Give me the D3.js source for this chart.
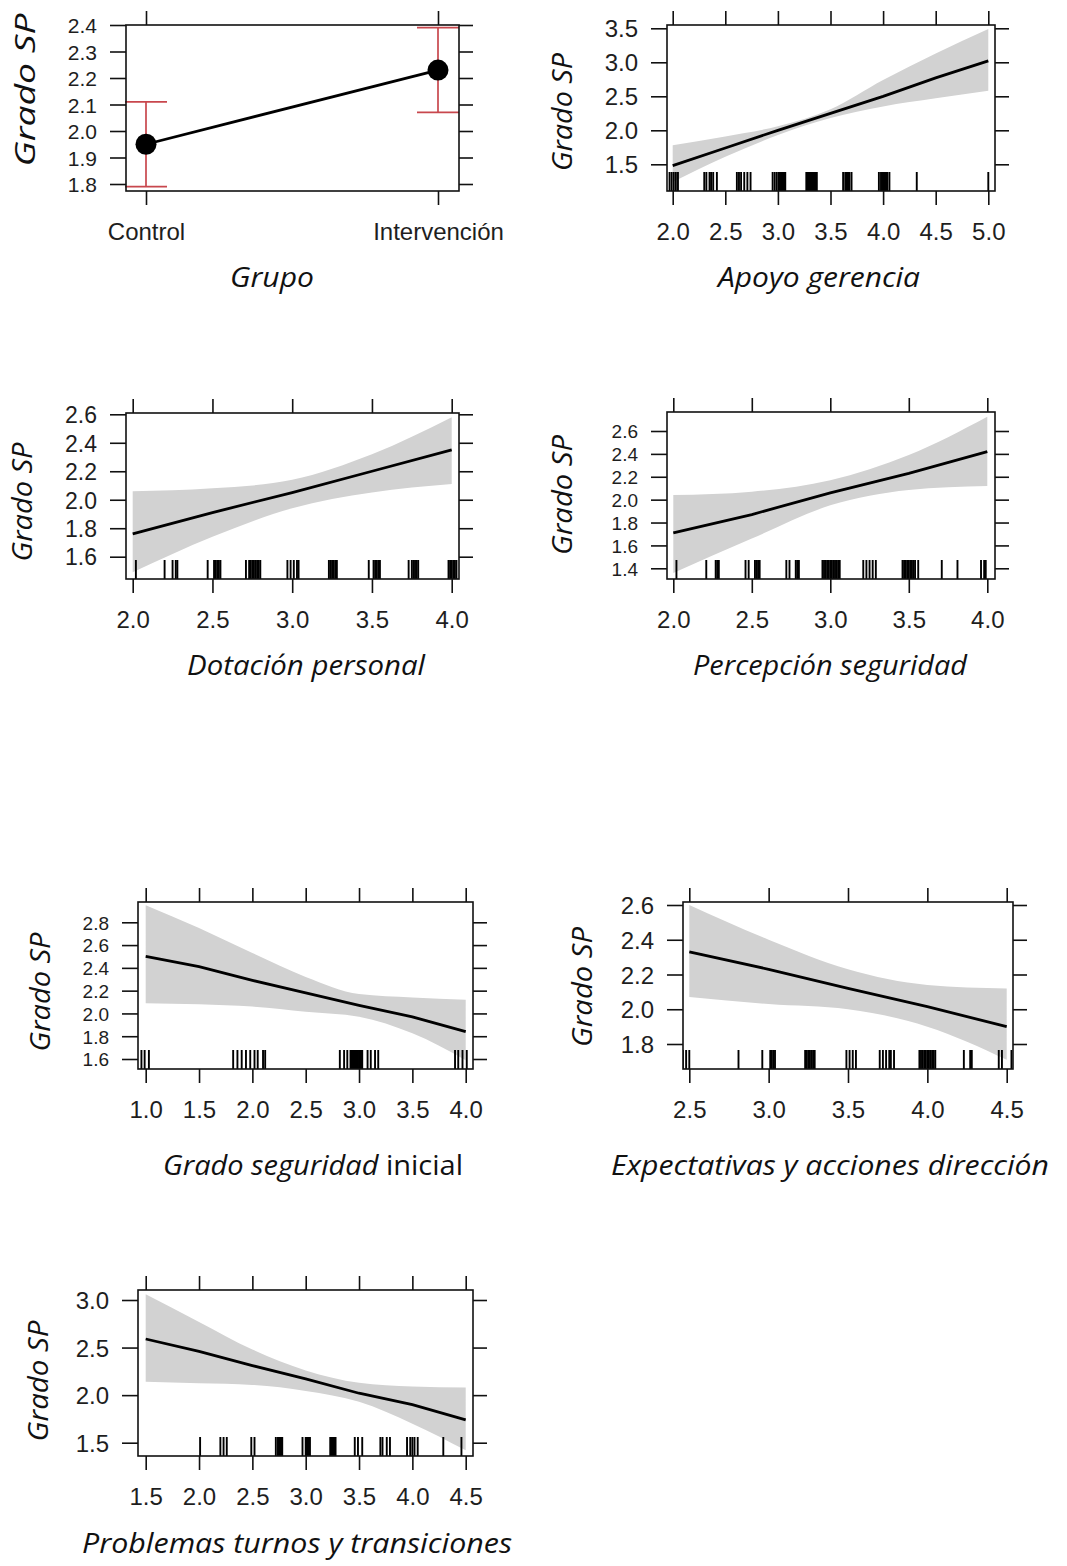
<!DOCTYPE html>
<html><head><meta charset="utf-8">
<script src="https://cdn.jsdelivr.net/npm/d3@7"></script>
<style>
body{margin:0;background:#fff}
svg{display:block}
.tick text{font-family:"Liberation Sans",Arial,sans-serif;font-size:24px;fill:#1e1e1e}
.tick line{stroke:#111;stroke-width:1.6}
.ttl{font-family:"Open Sans",sans-serif;font-style:italic;font-size:28px;fill:#111}
</style>
</head><body>
<svg id="c" width="1067" height="1566"></svg>
<script>
// ---------- DATA ----------
const yTitle = "Grado SP";

// Panel 1: Grupo
const grupoCategories = ["Control", "Intervención"];
const grupoFit   = [1.95, 2.23];
const grupoLower = [1.79, 2.07];
const grupoUpper = [2.11, 2.39];
const grupoTicksY = [1.8, 1.9, 2.0, 2.1, 2.2, 2.3, 2.4];

// Panel 2: Apoyo gerencia
const apoyoX     = [2.0, 2.5, 3.0, 3.5, 4.0, 4.5, 5.0];
const apoyoFit   = [1.48, 1.74, 2.00, 2.25, 2.50, 2.77, 3.02];
const apoyoLower = [1.24, 1.61, 1.93, 2.18, 2.35, 2.47, 2.58];
const apoyoUpper = [1.78, 1.91, 2.06, 2.31, 2.74, 3.13, 3.49];
const apoyoRug = [1.97,1.99,2.01,2.03,2.05, 2.30,2.32,2.35,2.365,2.385,2.42, 2.61,2.63,2.65,2.68,2.71,2.74,
  2.95,2.97,2.99,3.01,3.02,3.03,3.04,3.05,3.06,3.07, 3.27,3.28,3.29,3.30,3.31,3.32,3.33,3.34,3.35,3.36,3.37,
  3.62,3.64,3.65,3.66,3.67,3.68,3.70, 3.96,3.98,3.99,4.00,4.01,4.02,4.03,4.04,4.06, 4.32, 5.00];
const apoyoTicksX = [2.0, 2.5, 3.0, 3.5, 4.0, 4.5, 5.0];
const apoyoTicksY = [1.5, 2.0, 2.5, 3.0, 3.5];

// Panel 3: Dotación personal
const dotacionX     = [2.0, 2.5, 3.0, 3.5, 4.0];
const dotacionFit   = [1.76, 1.91, 2.05, 2.20, 2.35];
const dotacionLower = [1.49, 1.74, 1.94, 2.05, 2.11];
const dotacionUpper = [2.06, 2.08, 2.14, 2.32, 2.58];
const dotacionRug = [2.02, 2.20,2.25,2.27,2.28, 2.47,2.51,2.52,2.53,2.54,2.55,
  2.71,2.73,2.74,2.75,2.76,2.77,2.78,2.79,2.80, 2.97,2.99,3.01,3.03,3.04,
  3.23,3.24,3.25,3.26,3.27,3.28, 3.48,3.51,3.52,3.53,3.54,3.55,
  3.73,3.75,3.76,3.77,3.78,3.79, 3.98,3.99,4.00,4.01,4.02,4.03];
const dotacionTicksX = [2.0, 2.5, 3.0, 3.5, 4.0];
const dotacionTicksY = [1.6, 1.8, 2.0, 2.2, 2.4, 2.6];

// Panel 4: Percepción seguridad
const percepcionX     = [2.0, 2.5, 3.0, 3.5, 4.0];
const percepcionFit   = [1.71, 1.87, 2.06, 2.23, 2.42];
const percepcionLower = [1.36, 1.66, 1.95, 2.085, 2.12];
const percepcionUpper = [2.04, 2.07, 2.17, 2.39, 2.725];
const percepcionRug = [2.02, 2.21, 2.27,2.28,2.29, 2.46,2.48, 2.52,2.53,2.54,2.55, 2.72,2.74, 2.78,2.79,2.80,
  2.95,2.96,2.97,2.98,2.99,3.00,3.01,3.02,3.03,3.04,3.05,3.06, 3.21,3.23,3.25,3.27,3.29,
  3.46,3.47,3.48,3.49,3.50,3.51,3.52,3.53,3.54,3.56, 3.71, 3.81, 3.96,3.98,3.99];
const percepcionTicksX = [2.0, 2.5, 3.0, 3.5, 4.0];
const percepcionTicksY = [1.4, 1.6, 1.8, 2.0, 2.2, 2.4, 2.6];

// Panel 5: Grado seguridad inicial
const inicialX     = [1.0, 1.5, 2.0, 2.5, 3.0, 3.5, 4.0];
const inicialFit   = [2.50, 2.41, 2.29, 2.18, 2.07, 1.97, 1.84];
const inicialLower = [2.09, 2.08, 2.06, 2.015, 1.97, 1.825, 1.59];
const inicialUpper = [2.95, 2.75, 2.53, 2.32, 2.17, 2.14, 2.12];
const inicialRug = [0.96,0.99,1.03, 1.82,1.86,1.90,1.94,1.98,2.02,2.05,2.10,2.12,
  2.82,2.86,2.89,2.92,2.93,2.94,2.95,2.96,2.97,2.98,2.99,3.00,3.01,3.02,3.03,3.08,3.11,3.15,3.18,
  3.90,3.93,3.97,4.01];
const inicialTicksX = [1.0, 1.5, 2.0, 2.5, 3.0, 3.5, 4.0];
const inicialTicksY = [1.6, 1.8, 2.0, 2.2, 2.4, 2.6, 2.8];

// Panel 6: Expectativas y acciones dirección
const expectX     = [2.5, 3.0, 3.5, 4.0, 4.5];
const expectFit   = [2.33, 2.23, 2.12, 2.015, 1.90];
const expectLower = [2.07, 2.03, 2.00, 1.90, 1.71];
const expectUpper = [2.60, 2.40, 2.23, 2.14, 2.12];
const expectRug = [2.46,2.48,2.50, 2.81, 2.96, 3.01,3.02,3.03,3.04, 3.23,3.24,3.25,3.26,3.27,3.28,3.29,
  3.49, 3.51,3.53,3.55, 3.70, 3.72,3.74,3.76,3.77,3.79,
  3.95,3.96,3.97,3.98,3.99,4.00,4.01,4.02,4.03,4.04,4.05, 4.23, 4.27,4.28, 4.45,4.47, 4.53];
const expectTicksX = [2.5, 3.0, 3.5, 4.0, 4.5];
const expectTicksY = [1.8, 2.0, 2.2, 2.4, 2.6];

// Panel 7: Problemas turnos y transiciones
const turnosX     = [1.5, 2.0, 2.5, 3.0, 3.5, 4.0, 4.5];
const turnosFit   = [2.59, 2.46, 2.31, 2.17, 2.02, 1.90, 1.74];
const turnosLower = [2.14, 2.125, 2.107, 2.044, 1.93, 1.70, 1.42];
const turnosUpper = [3.06, 2.77, 2.48, 2.26, 2.13, 2.09, 2.08];
const turnosRug = [2.01, 2.20,2.23,2.26, 2.49,2.52, 2.72,2.74,2.75,2.76,2.77,2.78,
  2.97,3.00,3.01,3.02,3.03,3.04, 3.23,3.24,3.25,3.26,3.27,3.28, 3.46,3.49,3.53,
  3.70,3.72,3.76,3.79, 3.95,3.98,4.00,4.02,4.05, 4.29, 4.46];
const turnosTicksX = [1.5, 2.0, 2.5, 3.0, 3.5, 4.0, 4.5];
const turnosTicksY = [1.5, 2.0, 2.5, 3.0];

// ---------- LAYOUT ----------
const panels = [
  {cat:true, cats:grupoCategories, fit:grupoFit, lower:grupoLower, upper:grupoUpper, ticksY:grupoTicksY,
   box:[126,25,459,191], xr:[146,438], yd:[1.8,2.4], yr:[184,25], yfs:21,
   title:[{t:"Grupo",it:true}], tx:272, ty:287, tw:84, ytx:35, yty:90, ytw:153},
  {xs:apoyoX, fit:apoyoFit, lower:apoyoLower, upper:apoyoUpper, rug:apoyoRug, ticksX:apoyoTicksX, ticksY:apoyoTicksY,
   box:[667,25,995,191], xd:[2,5], xr:[672.7,988.3], yd:[1.5,3.5], yr:[164.3,28.3], yfs:24,
   title:[{t:"Apoyo gerencia",it:true}], tx:819, ty:287, tw:202, ytx:572, yty:112, ytw:118},
  {xs:dotacionX, fit:dotacionFit, lower:dotacionLower, upper:dotacionUpper, rug:dotacionRug, ticksX:dotacionTicksX, ticksY:dotacionTicksY,
   box:[126,413,459,579], xd:[2,4], xr:[132.7,451.7], yd:[1.6,2.6], yr:[556.7,414.3], yfs:23,
   title:[{t:"Dotación personal",it:true}], tx:306, ty:675, tw:238, ytx:32, yty:502, ytw:119},
  {xs:percepcionX, fit:percepcionFit, lower:percepcionLower, upper:percepcionUpper, rug:percepcionRug, ticksX:percepcionTicksX, ticksY:percepcionTicksY,
   box:[667,412,995,579], xd:[2,4], xr:[673.3,987.3], yd:[1.4,2.6], yr:[568.3,431], yfs:19,
   title:[{t:"Percepción seguridad",it:true}], tx:830, ty:675, tw:274, ytx:572, yty:495, ytw:120},
  {xs:inicialX, fit:inicialFit, lower:inicialLower, upper:inicialUpper, rug:inicialRug, ticksX:inicialTicksX, ticksY:inicialTicksY,
   box:[138,902,473,1069], xd:[1,4], xr:[145.7,465.7], yd:[1.6,2.8], yr:[1059,922.3], yfs:19,
   title:[{t:"Grado seguridad",it:true},{t:" inicial",it:false}], tx:313, ty:1175, tw:300, ytx:50, yty:992, ytw:119},
  {xs:expectX, fit:expectFit, lower:expectLower, upper:expectUpper, rug:expectRug, ticksX:expectTicksX, ticksY:expectTicksY,
   box:[683,902,1013,1069], xd:[2.5,4.5], xr:[689.3,1006.7], yd:[1.8,2.6], yr:[1044,905], yfs:24,
   title:[{t:"Expectativas y acciones dirección",it:true}], tx:830, ty:1175, tw:438, ytx:592, yty:987, ytw:120},
  {xs:turnosX, fit:turnosFit, lower:turnosLower, upper:turnosUpper, rug:turnosRug, ticksX:turnosTicksX, ticksY:turnosTicksY,
   box:[138,1290,473,1456], xd:[1.5,4.5], xr:[145.7,465.7], yd:[1.5,3.0], yr:[1442.7,1300], yfs:24,
   title:[{t:"Problemas turnos y transiciones",it:true}], tx:297, ty:1553, tw:430, ytx:48, yty:1381, ytw:121}
];

// ---------- DRAW ----------
const svg = d3.select("#c");
const defs = svg.append("defs");
const fmt = d3.format(".1f");

panels.forEach((p, i) => {
  const [bx0, by0, bx1, by1] = p.box;
  const g = svg.append("g");
  const x = p.cat ? d3.scalePoint().domain(p.cats).range(p.xr)
                  : d3.scaleLinear().domain(p.xd).range(p.xr);
  const y = d3.scaleLinear().domain(p.yd).range(p.yr);
  const cid = "clip" + i;
  defs.append("clipPath").attr("id", cid).append("rect")
    .attr("x", bx0).attr("y", by0).attr("width", bx1 - bx0).attr("height", by1 - by0);

  if (!p.cat) {
    const pts = p.xs.map((v, k) => ({x: v, f: p.fit[k], lo: p.lower[k], hi: p.upper[k]}));
    g.append("path").datum(pts)
      .attr("clip-path", `url(#${cid})`)
      .attr("fill", "#d2d2d2")
      .attr("d", d3.area().x(d => x(d.x)).y0(d => y(d.lo)).y1(d => y(d.hi)).curve(d3.curveMonotoneX));
    g.append("g").attr("clip-path", `url(#${cid})`)
      .selectAll("line").data(p.rug).join("line")
      .attr("x1", d => x(d)).attr("x2", d => x(d))
      .attr("y1", by1).attr("y2", by1 - 19)
      .attr("stroke", "#000").attr("stroke-width", 1.9);
    g.append("path").datum(pts)
      .attr("clip-path", `url(#${cid})`)
      .attr("fill", "none").attr("stroke", "#000").attr("stroke-width", 2.8)
      .attr("d", d3.line().x(d => x(d.x)).y(d => y(d.f)));
  } else {
    const pts = p.cats.map((c, k) => ({c, f: p.fit[k], lo: p.lower[k], hi: p.upper[k]}));
    g.append("path").datum(pts)
      .attr("fill", "none").attr("stroke", "#000").attr("stroke-width", 2.8)
      .attr("d", d3.line().x(d => x(d.c)).y(d => y(d.f)));
    const eb = g.append("g").attr("stroke", "#c8474d").attr("stroke-width", 1.7).attr("fill", "none");
    eb.selectAll("line.v").data(pts).join("line").attr("class", "v")
      .attr("x1", d => x(d.c)).attr("x2", d => x(d.c)).attr("y1", d => y(d.lo)).attr("y2", d => y(d.hi));
    eb.selectAll("line.lo").data(pts).join("line").attr("class", "lo")
      .attr("x1", d => x(d.c) - 21).attr("x2", d => x(d.c) + 21).attr("y1", d => y(d.lo)).attr("y2", d => y(d.lo));
    eb.selectAll("line.hi").data(pts).join("line").attr("class", "hi")
      .attr("x1", d => x(d.c) - 21).attr("x2", d => x(d.c) + 21).attr("y1", d => y(d.hi)).attr("y2", d => y(d.hi));
    g.selectAll("circle").data(pts).join("circle")
      .attr("cx", d => x(d.c)).attr("cy", d => y(d.f)).attr("r", 10.5).attr("fill", "#000");
  }

  // frame
  g.append("rect").attr("x", bx0).attr("y", by0).attr("width", bx1 - bx0).attr("height", by1 - by0)
    .attr("fill", "none").attr("stroke", "#111").attr("stroke-width", 1.6);

  const xTicks = p.cat ? p.cats : p.ticksX;
  const xf = p.cat ? (d => d) : fmt;
  // bottom axis
  const ab = g.append("g").attr("transform", `translate(0,${by1})`)
    .call(d3.axisBottom(x).tickValues(xTicks).tickFormat(xf).tickSize(14));
  ab.selectAll("text").attr("y", 49).attr("dy", 0);
  // top axis
  g.append("g").attr("transform", `translate(0,${by0})`)
    .call(d3.axisTop(x).tickValues(xTicks).tickFormat("").tickSize(14));
  // left axis
  g.append("g").attr("transform", `translate(${bx0},0)`)
    .call(d3.axisLeft(y).tickValues(p.ticksY).tickFormat(fmt).tickSize(16).tickPadding(13))
    .selectAll("text").attr("dy", "0.36em").style("font-size", p.yfs + "px");
  // right axis
  g.append("g").attr("transform", `translate(${bx1},0)`)
    .call(d3.axisRight(y).tickValues(p.ticksY).tickFormat("").tickSize(14));
  g.selectAll(".domain").remove();

  // x title
  const xt = g.append("text").attr("class", "ttl").attr("x", p.tx).attr("y", p.ty)
    .attr("text-anchor", "middle").attr("textLength", p.tw).attr("lengthAdjust", "spacingAndGlyphs");
  p.title.forEach(s => xt.append("tspan").text(s.t).style("font-style", s.it ? "italic" : "normal"));
  // y title
  g.append("text").attr("class", "ttl")
    .attr("transform", `translate(${p.ytx},${p.yty}) rotate(-90)`)
    .attr("text-anchor", "middle").attr("textLength", p.ytw).attr("lengthAdjust", "spacingAndGlyphs")
    .text(yTitle);
});
</script>
</body></html>
